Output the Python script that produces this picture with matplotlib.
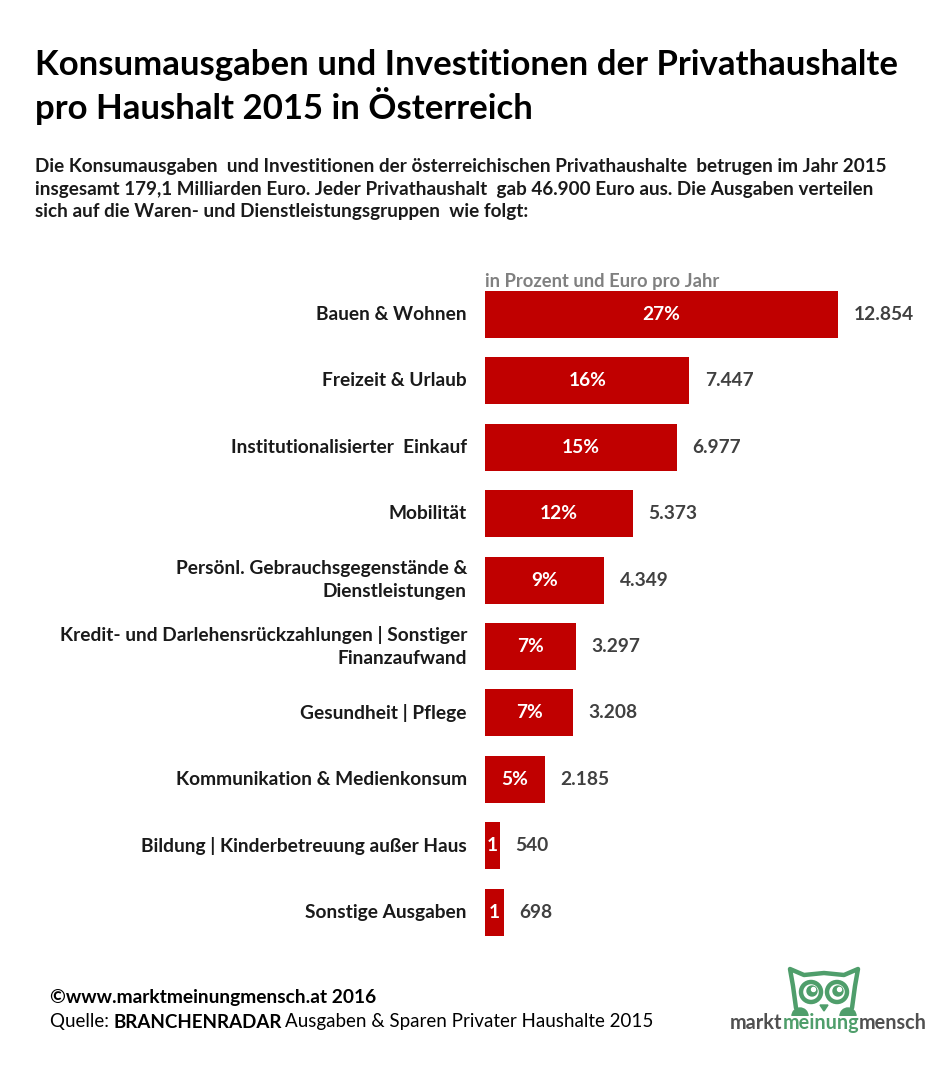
import matplotlib.pyplot as plt
from matplotlib.patches import Circle, Polygon, Wedge
import numpy as np

plt.rcParams['font.family'] = ['Lato', 'DejaVu Sans']

categories = ['Bauen & Wohnen', 'Freizeit & Urlaub', 'Institutionalisierter  Einkauf',
              'Mobilität', 'Persönl. Gebrauchsgegenstände &\nDienstleistungen',
              'Kredit- und Darlehensrückzahlungen | Sonstiger\nFinanzaufwand',
              'Gesundheit | Pflege', 'Kommunikation & Medienkonsum',
              'Bildung | Kinderbetreuung außer Haus', 'Sonstige Ausgaben']
euro = [12854, 7447, 6977, 5373, 4349, 3297, 3208, 2185, 540, 698]
euro_labels = ['12.854', '7.447', '6.977', '5.373', '4.349', '3.297', '3.208', '2.185', '540', '698']
pct_labels = ['27%', '16%', '15%', '12%', '9%', '7%', '7%', '5%', '1', '1']

RED = '#c00000'
W, H = 938, 1072
fig = plt.figure(figsize=(W / 100, H / 100), dpi=100)

def fx(px):
    return px / W

def fy(py):
    return 1 - py / H

# bar axes, placed in pixel terms
ax = fig.add_axes([fx(485), fy(950), fx(938) - fx(485), (950 - 280) / H])
y = np.arange(len(categories))
ax.barh(y, euro, height=0.71, color=RED)
ax.set_xlim(0, 453 / 0.02746)
ax.set_ylim((950 - 314.5) / 66.4, (280 - 314.5) / 66.4)
ax.axis('off')

lab_tf = ax.get_yaxis_transform()
for i, (v, p, e, c) in enumerate(zip(euro, pct_labels, euro_labels, categories)):
    ax.text(v / 2, i, p, ha='center', va='center', color='white',
            fontsize=13.8, fontweight='bold')
    ax.text(v + 560, i, e, ha='left', va='center', color='#404040',
            fontsize=13.8, fontweight='bold')
    ax.text(-0.04, i, c, transform=lab_tf, ha='right', va='center',
            color='#1a1a1a', fontsize=13.8, fontweight='bold', linespacing=1.42)

fig.text(fx(485), fy(281), 'in Prozent und Euro pro Jahr', ha='left', va='center',
         color='#808080', fontsize=13.2, fontweight='bold')

# title and subtitle
fig.text(fx(35), fy(87), 'Konsumausgaben und Investitionen der Privathaushalte\npro Haushalt 2015 in Österreich',
         ha='left', va='center', fontsize=25, fontweight='bold', color='black', linespacing=1.2)
fig.text(fx(35), fy(189),
         'Die Konsumausgaben  und Investitionen der österreichischen Privathaushalte  betrugen im Jahr 2015\n'
         'insgesamt 179,1 Milliarden Euro. Jeder Privathaushalt  gab 46.900 Euro aus. Die Ausgaben verteilen\n'
         'sich auf die Waren- und Dienstleistungsgruppen  wie folgt:',
         ha='left', va='center', fontsize=13.6, fontweight='bold', color='#1a1a1a', linespacing=1.36)

# footer
fig.text(fx(50), fy(998), '©www.marktmeinungmensch.at 2016', ha='left', va='center',
         fontsize=13.8, fontweight='bold', color='black')
t1 = fig.text(fx(50), fy(1022), 'Quelle: ', ha='left', va='center', fontsize=13.5, color='black')
t2 = fig.text(0, 0, 'BRANCHENRADAR', fontsize=13.5, fontweight='bold', color='black',
              transform=t1.get_transform())
fig.canvas.draw()
r = fig.canvas.get_renderer()
bb = t1.get_window_extent(r)
t2.set_position((bb.x1 / W, fy(1022)))
t2.set_va('center')
fig.canvas.draw()
bb2 = t2.get_window_extent(r)
fig.text(bb2.x1 / W + 0.003, fy(1022), 'Ausgaben & Sparen Privater Haushalte 2015',
         ha='left', va='center', fontsize=13.5, color='black')

# logo (outline owl)
GREEN = '#4f9e6b'
lax = fig.add_axes([fx(784), fy(1016), fx(864) - fx(784), (1016 - 964) / H])
lax.set_xlim(0, 80)
lax.set_ylim(0, 52)
lax.set_aspect('equal')
lax.axis('off')
head = [(12, 8), (9, 30), (6, 47), (20, 41), (40, 43), (60, 41), (74, 47), (71, 30), (68, 8)]
lax.plot(*zip(*head), color=GREEN, lw=3.2, solid_joinstyle='round', solid_capstyle='round')
for cx in (27, 53):
    lax.add_patch(Circle((cx, 24), 10, facecolor='white', edgecolor=GREEN, lw=3.2))
    lax.add_patch(Circle((cx + 1, 25), 5, color=GREEN))
    lax.add_patch(Circle((cx + 2.5, 26.5), 2, color='white'))
lax.add_patch(Polygon([(36, 11), (44, 11), (40, 5)], color=GREEN))
lax.add_patch(Wedge((16, 0), 8, 0, 180, color=GREEN))
lax.add_patch(Wedge((64, 0), 8, 0, 180, color=GREEN))

lt1 = fig.text(fx(730), fy(1023), 'markt', ha='left', va='center', fontsize=14.3,
               fontweight='bold', color='#505050')
fig.canvas.draw()
b = lt1.get_window_extent(r)
lt2 = fig.text(b.x1 / W, fy(1023), 'meinung', ha='left', va='center', fontsize=14.3,
               fontweight='bold', color=GREEN)
fig.canvas.draw()
b = lt2.get_window_extent(r)
fig.text(b.x1 / W, fy(1023), 'mensch', ha='left', va='center', fontsize=14.3,
         fontweight='bold', color='#505050')

fig.savefig('out.png', dpi=100)
